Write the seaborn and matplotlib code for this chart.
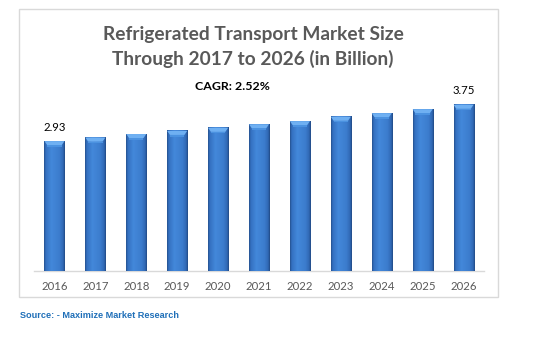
import numpy as np
import pandas as pd
import matplotlib
matplotlib.use("Agg")
import matplotlib.pyplot as plt
from matplotlib.colors import LinearSegmentedColormap
from matplotlib.patches import Rectangle, Polygon
import seaborn as sns

years = ["2016", "2017", "2018", "2019", "2020", "2021",
         "2022", "2023", "2024", "2025", "2026"]
market_size = [2.93, 3.01, 3.09, 3.16, 3.23, 3.31, 3.38, 3.48, 3.56, 3.65, 3.75]
labelled_years = ["2016", "2026"]

title_text = "Refrigerated Transport Market Size\nThrough 2017 to 2026 (in Billion)"
cagr_text = "CAGR: 2.52%"
source_text = "Source: - Maximize Market Research"

df = pd.DataFrame({"year": years, "size": market_size})

W, H = 536, 345
fig = plt.figure(figsize=(W / 100, H / 100), dpi=100)
fig.patch.set_facecolor("white")

sns.set_style("white")
plt.rcParams["font.family"] = ["Lato", "DejaVu Sans"]

def fx(px):
    return px / W

def fy(py):
    return 1 - py / H

ax_left, ax_right, ax_bottom, ax_top = 34, 484, 271, 95
ax = fig.add_axes([fx(ax_left), fy(ax_bottom), fx(ax_right - ax_left), (ax_bottom - ax_top) / H])

base_blue = "#3b7ad0"
sns.barplot(data=df, x="year", y="size", color=base_blue, width=0.49,
            saturation=1, ax=ax, zorder=2)

ax.set_xlim(-0.5, len(years) - 0.5)
ax.set_ylim(0, 3.97)
ax.set_xlabel("")
ax.set_ylabel("")
ax.set_yticks([])
for side in ["left", "right", "top"]:
    ax.spines[side].set_visible(False)
ax.spines["bottom"].set_color("#d9d9d9")
ax.spines["bottom"].set_linewidth(1.0)
ax.tick_params(axis="x", length=0, pad=7, labelsize=8.2, labelcolor="#595959")

# bevelled look: horizontal shading across each bar plus a light top cap
shade = LinearSegmentedColormap.from_list(
    "bar_shade",
    [(0.0, "#25528f"), (0.08, "#3470c0"), (0.35, "#4388da"),
     (0.75, "#3c7ccd"), (0.92, "#3068b4"), (1.0, "#214a85")])
grad = np.linspace(0, 1, 64).reshape(1, -1)
px_per_unit = (ax_bottom - ax_top) / 3.97
cap_h = 4.0 / px_per_unit
for patch in list(ax.patches):
    x0 = patch.get_x()
    w = patch.get_width()
    h = patch.get_height()
    ax.imshow(grad, cmap=shade, aspect="auto", extent=[x0, x0 + w, 0, h],
              zorder=3, interpolation="bilinear")
    inset = w * 0.14
    cap = Polygon([(x0, h), (x0 + w, h), (x0 + w - inset, h - cap_h),
                   (x0 + inset, h - cap_h)], closed=True,
                  facecolor="#6fb0f2", edgecolor="none", zorder=4)
    ax.add_patch(cap)
    ax.add_patch(Polygon([(x0 + inset, h - cap_h), (x0 + w - inset, h - cap_h),
                          (x0 + w - inset, h - cap_h * 1.4), (x0 + inset, h - cap_h * 1.4)],
                         closed=True, facecolor="#4b92e0", edgecolor="none", zorder=4))
ax.set_xlim(-0.5, len(years) - 0.5)
ax.set_ylim(0, 3.97)

for i, (yr, v) in enumerate(zip(years, market_size)):
    if yr in labelled_years:
        ax.annotate(f"{v:.2f}", xy=(i, v), xytext=(0, 10), textcoords="offset points",
                    ha="center", va="center", fontsize=8.2, color="#000000", zorder=5)

fig.text(fx(253), fy(47), title_text, ha="center", va="center", fontsize=13.8,
         fontweight="bold", color="#595959", linespacing=1.4)
fig.text(fx(232), fy(87), cagr_text, ha="center", va="center", fontsize=8.9,
         fontweight="bold", color="#000000")
fig.text(fx(20), fy(315), source_text, ha="left", va="center", fontsize=6.6,
         fontweight="bold", color="#1f6fb8", family=["Liberation Sans", "DejaVu Sans"])

fig.add_artist(Rectangle((fx(19), fy(297)), fx(498 - 19), (297 - 9) / H,
                         transform=fig.transFigure, fill=False,
                         edgecolor="#d9d9d9", linewidth=1.0))

fig.savefig("out.png", dpi=100, facecolor="white")
